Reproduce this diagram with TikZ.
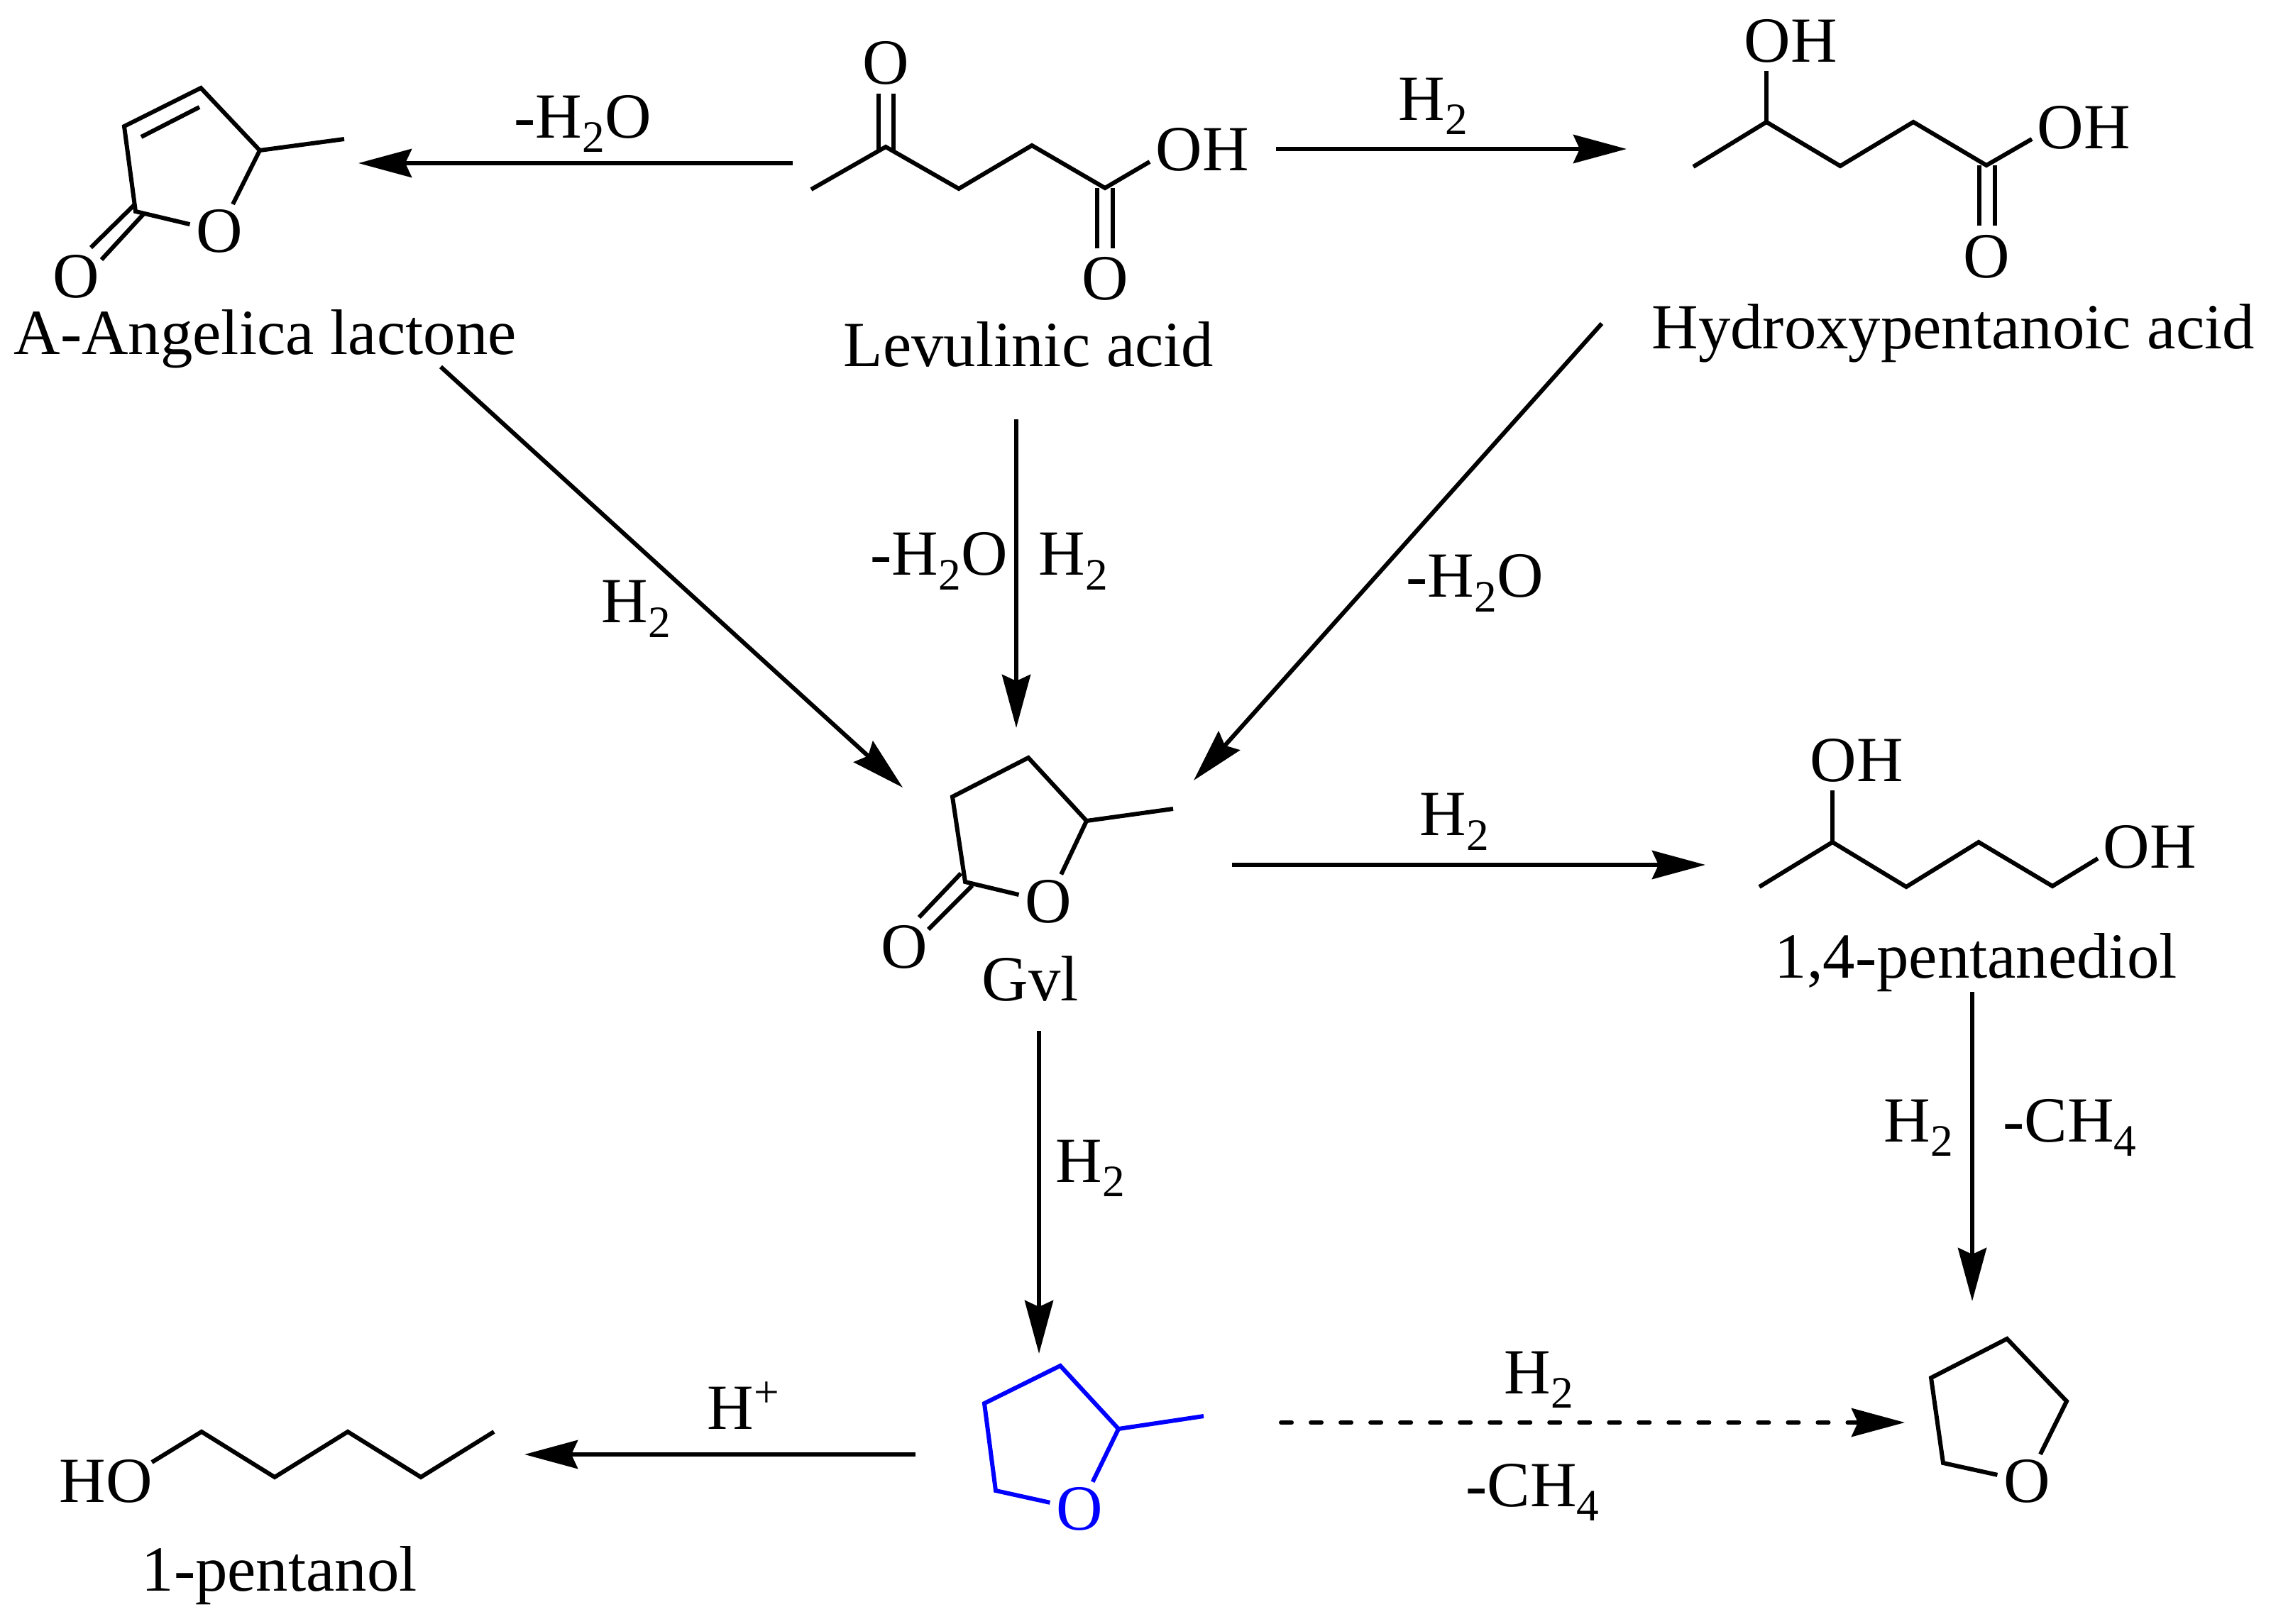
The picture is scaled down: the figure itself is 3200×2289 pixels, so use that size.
\documentclass[tikz,border=0pt]{standalone}
\usepackage{fontspec}
\setmainfont{Liberation Serif}
\usetikzlibrary{arrows.meta}
\newcommand{\subidx}[1]{\raisebox{-0.2cm}{\fontsize{18}{18}\selectfont #1}}
\newcommand{\supidx}[1]{\raisebox{0.3cm}{\fontsize{18}{18}\selectfont #1}}
\tikzset{
  bond/.style={line width=0.06cm},
  rxn/.style={line width=0.06cm,-{Stealth[length=0.75cm,width=0.4cm,inset=0.09cm]}},
  lbl/.style={anchor=base west,inner sep=0pt,font=\fontsize{25.8}{30}\selectfont},
  atom/.style={circle,inner sep=0pt,outer sep=-0.02cm,font=\fontsize{25.8}{30}\selectfont}
}
\begin{document}
\begin{tikzpicture}[x=0.01cm,y=-0.01cm]
\useasboundingbox (0,0) rectangle (3200,2289);
% lactone
\node[atom] (lacO) at (309,326) {O};
\node[atom] (lacCO) at (107,390) {O};
\draw[bond] (lacO) -- (366,212) -- (283,124) -- (175,178) -- (191,298) -- (lacO);
\draw[bond] (366,212) -- (485,196);
\draw[bond] (281,151) -- (199,193);
\draw[bond] (191,287) -- (128,349);
\draw[bond] (202,302) -- (143,366);
\node[lbl] (lacName) at (19,500) {A-Angelica lactone};
% levulinic acid
\node[atom] (levO) at (1248,89) {O};
\node[atom] (levCO) at (1557,393) {O};
\node[lbl] (levOH) at (1628,241) {OH};
\draw[bond] (1143,267) -- (1248,207) -- (1351,266) -- (1454,205) -- (1557,265) -- (1620,228);
\draw[bond] (1238,132) -- (1238,213);
\draw[bond] (1259,132) -- (1259,213);
\draw[bond] (1546,265) -- (1546,350);
\draw[bond] (1568,265) -- (1568,350);
\node[lbl] (levName) at (1188,517) {Levulinic acid};
% hydroxypentanoic acid
\node[lbl] (hpaOHa) at (2457,88) {OH};
\node[lbl] (hpaOHb) at (2870,210) {OH};
\node[atom] (hpaCO) at (2799,362) {O};
\draw[bond] (2386,235) -- (2489,172) -- (2593,234) -- (2696,172) -- (2799,233) -- (2863,196);
\draw[bond] (2489,100) -- (2489,172);
\draw[bond] (2789,233) -- (2789,318);
\draw[bond] (2811,233) -- (2811,318);
\node[lbl] (hpaName) at (2327,492) {Hydroxypentanoic acid};
% gvl
\node[atom] (gvlO) at (1477,1271) {O};
\node[atom] (gvlCO) at (1274,1335) {O};
\draw[bond] (gvlO) -- (1531,1157) -- (1449,1068) -- (1342,1123) -- (1360,1243) -- (gvlO);
\draw[bond] (1531,1157) -- (1653,1140);
\draw[bond] (1354,1231) -- (1295,1293);
\draw[bond] (1370,1248) -- (1308,1310);
\node[lbl] (gvlName) at (1383,1410) {Gvl};
% pentanediol
\node[lbl] (pdoOHa) at (2550,1102) {OH};
\node[lbl] (pdoOHb) at (2963,1224) {OH};
\draw[bond] (2479,1250) -- (2582,1187) -- (2686,1250) -- (2788,1187) -- (2892,1249) -- (2956,1210);
\draw[bond] (2582,1114) -- (2582,1187);
\node[lbl] (pdoName) at (2500,1378) {1,4-pentanediol};
% methyl-thf
\node[atom,blue] (mthfO) at (1521,2127) {O};
\draw[bond,blue] (mthfO) -- (1576,2014) -- (1494,1925) -- (1387,1978) -- (1403,2101) -- (mthfO);
\draw[bond,blue] (1576,2014) -- (1696,1996);
% thf
\node[atom] (thfO) at (2856,2088) {O};
\draw[bond] (thfO) -- (2912,1975) -- (2828,1887) -- (2721,1942) -- (2738,2062) -- (thfO);
% pentanol
\node[lbl] (penOH) at (83,2117) {HO};
\draw[bond] (214,2061) -- (284,2018) -- (387,2082) -- (490,2018) -- (593,2082) -- (696,2018);
\node[lbl] (penName) at (199,2242) {1-pentanol};
% arrow ends
\coordinate (levW) at (1117,230);
\coordinate (lacE) at (505,230);
\coordinate (levE) at (1798,210);
\coordinate (hpaW) at (2292,210);
\coordinate (levS) at (1432,591);
\coordinate (gvlN) at (1432,1026);
\coordinate (lacS) at (621,517);
\coordinate (gvlNW) at (1272,1110);
\coordinate (hpaS) at (2257,456);
\coordinate (gvlNE) at (1682,1100);
\coordinate (gvlE) at (1736,1219);
\coordinate (pdoW) at (2403,1219);
\coordinate (gvlS) at (1464,1453);
\coordinate (mthfN) at (1464,1908);
\coordinate (pdoS) at (2779,1398);
\coordinate (thfN) at (2779,1834);
\coordinate (mthfW) at (1290,2050);
\coordinate (penE) at (739,2050);
\coordinate (mthfE) at (1805,2005);
\coordinate (thfW) at (2684,2005);
\draw[rxn] (levW) -- (lacE);
\draw[rxn] (levE) -- (hpaW);
\draw[rxn] (levS) -- (gvlN);
\draw[rxn] (lacS) -- (gvlNW);
\draw[rxn] (hpaS) -- (gvlNE);
\draw[rxn] (gvlE) -- (pdoW);
\draw[rxn] (gvlS) -- (mthfN);
\draw[rxn] (pdoS) -- (thfN);
\draw[rxn] (mthfW) -- (penE);
\draw[rxn,line cap=round,dash pattern=on 0.15cm off 0.27cm] (mthfE) -- (thfW);
% reagents
\node[lbl] (rgA) at (724,195) {-H\subidx{2}O};
\node[lbl] (rgB) at (1970,170) {H\subidx{2}};
\node[lbl] (rgC) at (847,878) {H\subidx{2}};
\node[lbl] (rgD) at (1226,811) {-H\subidx{2}O};
\node[lbl] (rgE) at (1463,811) {H\subidx{2}};
\node[lbl] (rgF) at (1981,842) {-H\subidx{2}O};
\node[lbl] (rgG) at (2000,1178) {H\subidx{2}};
\node[lbl] (rgH) at (1487,1666) {H\subidx{2}};
\node[lbl] (rgI) at (2654,1609) {H\subidx{2}};
\node[lbl] (rgJ) at (2822,1609) {-CH\subidx{4}};
\node[lbl] (rgK) at (996,2014) {H\supidx{+}};
\node[lbl] (rgL) at (2119,1964) {H\subidx{2}};
\node[lbl] (rgM) at (2065,2123) {-CH\subidx{4}};
\end{tikzpicture}
\end{document}
